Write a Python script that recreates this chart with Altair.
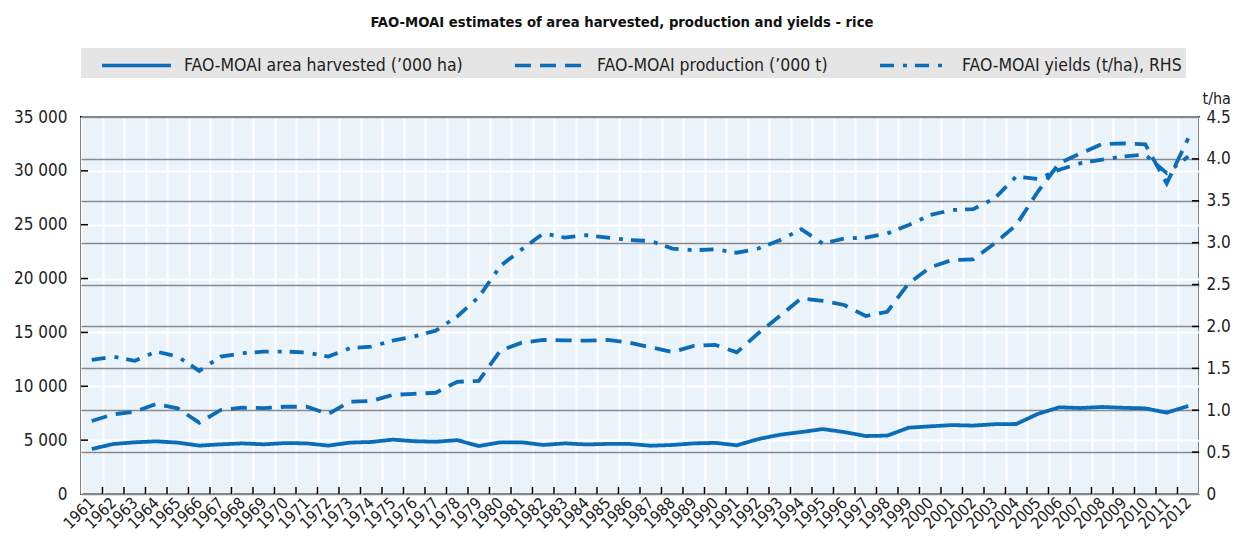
import altair as alt
import pandas as pd

years = list(range(1961, 2013))
area = [4180, 4640, 4800, 4890, 4770, 4490, 4610, 4700, 4610, 4730,
        4700, 4490, 4770, 4830, 5050, 4900, 4850, 5000, 4450, 4800,
        4800, 4550, 4700, 4600, 4650, 4650, 4480, 4550, 4700, 4750,
        4520, 5100, 5500, 5750, 6030, 5750, 5380, 5420, 6160, 6280,
        6400, 6350, 6480, 6500, 7430, 8050, 7980, 8080, 8000, 7950,
        7550, 8170]
production = [6780, 7400, 7640, 8360, 7950, 6620, 7800, 8010, 7980, 8100,
              8100, 7430, 8570, 8630, 9200, 9300, 9400, 10420, 10500, 13300,
              14050, 14300, 14270, 14230, 14300, 14050, 13620, 13180, 13750, 13850,
              13150, 14920, 16520, 18170, 17920, 17550, 16520, 16920, 19560, 21050,
              21720, 21790, 23270, 24970, 28060, 30700, 31630, 32490, 32550, 32460,
              28840, 33020]
yields = [1.60, 1.64, 1.59, 1.70, 1.64, 1.47, 1.64, 1.68, 1.70, 1.70,
          1.69, 1.64, 1.74, 1.76, 1.83, 1.88, 1.95, 2.12, 2.35, 2.72,
          2.92, 3.11, 3.06, 3.09, 3.06, 3.03, 3.02, 2.93, 2.91, 2.92,
          2.88, 2.93, 3.03, 3.16, 2.99, 3.05, 3.06, 3.11, 3.21, 3.33,
          3.39, 3.40, 3.53, 3.79, 3.76, 3.87, 3.95, 3.99, 4.03, 4.05,
          3.83, 4.03]

series_names = ["FAO-MOAI area harvested (\u2019000 ha)",
                "FAO-MOAI production (\u2019000 t)",
                "FAO-MOAI yields (t/ha), RHS"]
left_ticks = [0, 5000, 10000, 15000, 20000, 25000, 30000, 35000]
right_ticks = [0, 0.5, 1.0, 1.5, 2.0, 2.5, 3.0, 3.5, 4.0, 4.5]
title_text = "FAO-MOAI estimates of area harvested, production and yields - rice"

FONT = "DejaVu Sans Condensed, Roboto, sans-serif"
BLUE = "#0b6cb8"
TXT = "#222222"
W, H = 1118, 377

rows = []
for i, yr in enumerate(years):
    rows.append({"year": yr, "series": series_names[0], "value": area[i], "side": "L"})
    rows.append({"year": yr, "series": series_names[1], "value": production[i], "side": "L"})
    rows.append({"year": yr, "series": series_names[2], "value": yields[i], "side": "R"})
df = pd.DataFrame(rows)

dash_scale = alt.Scale(domain=series_names, range=[[1, 0], [16, 9], [14, 9, 4, 8]])
legend = alt.Legend(title=None, orient="none", legendX=0, legendY=-69,
                    direction="horizontal", columns=3, fillColor="#E5E5E5",
                    padding=4, symbolType="M-3,0H3", symbolSize=529,
                    symbolOffset=38, symbolStrokeWidth=3.5, symbolStrokeColor=BLUE,
                    symbolFillColor="transparent",
                    labelFont=FONT, labelFontSize=17.5, labelColor=TXT,
                    columnPadding=35, labelOffset=34, labelLimit=400,
                    labelExpr="datum.index == 2 ? datum.label + '\u00a0\u00a0\u00a0' : datum.label")

x_enc = alt.X("year:O", scale=alt.Scale(type="band", paddingInner=0, paddingOuter=0),
              axis=alt.Axis(title=None, ticks=False, domain=False, grid=True,
                            gridColor="white", gridWidth=2, tickBand="extent",
                            labelAngle=315, labelAlign="right", labelBaseline="middle",
                            labelPadding=6, labelFont=FONT, labelFontSize=16,
                            labelColor=TXT, labelOverlap=False))

yL_scale = alt.Scale(domain=[0, 35000], nice=False)
yR_scale = alt.Scale(domain=[0, 4.5], nice=False)

left_lines = alt.Chart(df).transform_filter(alt.datum.side == "L").mark_line(
    strokeWidth=3.8, color=BLUE).encode(
    x=x_enc,
    y=alt.Y("value:Q", scale=yL_scale,
            axis=alt.Axis(title=None, values=left_ticks, grid=True, gridColor="white",
                          gridWidth=2, ticks=False, tickSize=0, domain=False,
                          labelPadding=14, labelFont=FONT, labelFontSize=17,
                          labelColor=TXT,
                          labelExpr="replace(format(datum.value, ','), ',', ' ')")),
    strokeDash=alt.StrokeDash("series:N", scale=dash_scale, legend=legend),
)

left_tick_marks = alt.Chart(pd.DataFrame({"value": left_ticks[1:-1]})).mark_rule(
    color="black", strokeWidth=1.5).encode(
    y=alt.Y("value:Q", scale=yL_scale), x=alt.value(0), x2=alt.value(7))

bottom_tick_marks = alt.Chart(pd.DataFrame({"year": years[1:]})).mark_rule(
    color="black", strokeWidth=1.5).encode(
    x=alt.X("year:O", bandPosition=0), y=alt.value(H - 7), y2=alt.value(H))

right_lines = alt.Chart(df).transform_filter(alt.datum.side == "R").mark_line(
    strokeWidth=3.8, color=BLUE).encode(
    x=x_enc,
    y=alt.Y("value:Q", scale=yR_scale,
            axis=alt.Axis(orient="right", title="t/ha", titleAngle=0, titleX=3,
                          titleY=-14, titleAlign="left", titleBaseline="alphabetic",
                          titleFont=FONT, titleFontSize=16, titleFontWeight="normal",
                          titleColor=TXT,
                          values=right_ticks, grid=True, gridColor="#8a8a8a",
                          gridWidth=1.4, ticks=False, tickSize=0, domain=False,
                          labelPadding=7, labelFont=FONT, labelFontSize=17,
                          labelColor=TXT,
                          labelExpr="datum.value == 0 ? '0' : format(datum.value, '.1f')")),
    strokeDash=alt.StrokeDash("series:N", scale=dash_scale, legend=legend),
)

right_tick_marks = alt.Chart(pd.DataFrame({"value": right_ticks[1:-1]})).mark_rule(
    color="black", strokeWidth=1.5).encode(
    y=alt.Y("value:Q", scale=yR_scale), x=alt.value(W - 7), x2=alt.value(W))

left_group = alt.layer(left_lines, left_tick_marks, bottom_tick_marks)
right_group = alt.layer(right_lines, right_tick_marks)

chart = alt.layer(left_group, right_group).resolve_scale(y="independent").properties(
    width=W, height=H,
    title=alt.Title(title_text, font=FONT, fontSize=14.7, fontWeight="bold",
                    color="#111111", anchor="middle", frame="bounds", offset=18),
    autosize=alt.AutoSizeParams(type="none"),
    padding={"left": 73, "top": 109, "right": 32, "bottom": 40},
).configure_view(stroke="black", strokeWidth=2, fill="#EAF2FA")

chart.save("out.html", embed_options={"renderer": "svg", "actions": False})
